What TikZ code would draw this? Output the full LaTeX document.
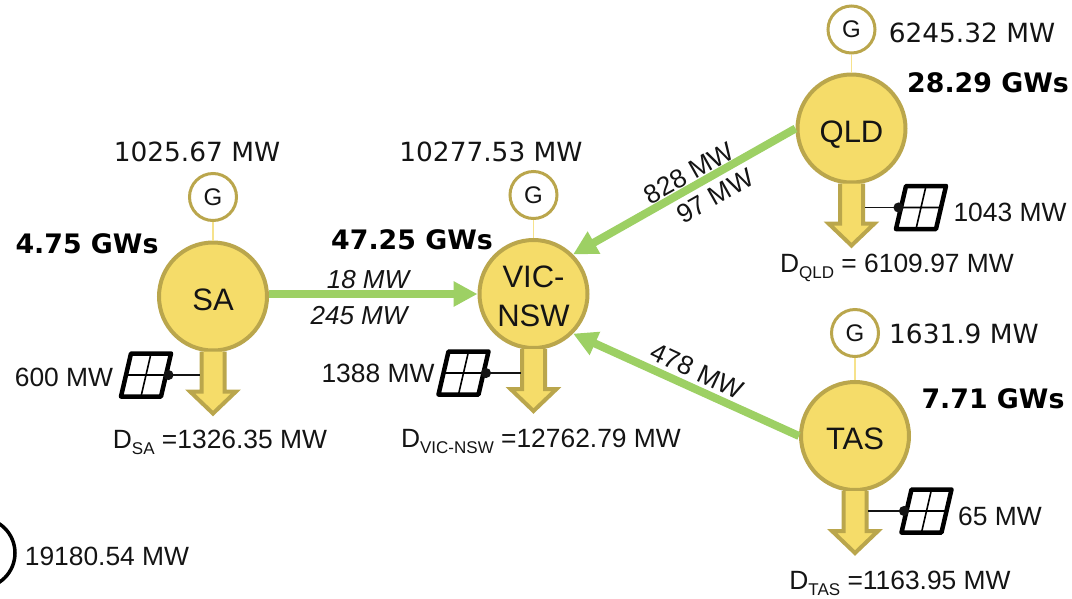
\documentclass[tikz,border=0pt]{standalone}
\usepackage{fontspec}
\setmainfont{Liberation Sans}
\newfontfamily\dejavu{DejaVu Sans}
\usetikzlibrary{arrows.meta}
\definecolor{sun}{RGB}{245,220,105}
\definecolor{olive}{RGB}{186,166,76}
\definecolor{pale}{RGB}{246,226,140}
\definecolor{grass}{RGB}{157,208,100}
\definecolor{ink}{RGB}{20,20,20}
\newcommand{\dem}[1]{D\raisebox{-6pt}{\fontsize{17}{17}\selectfont #1}}
\tikzset{
  x=1pt,y=1pt,
  region/.style={circle,draw=olive,fill=sun,line width=4pt,minimum size=108pt,inner sep=0pt,
    font=\fontsize{31}{36}\selectfont,align=center,text=ink,text height=27pt,text depth=0pt},
  genring/.style={circle,draw=olive,fill=white,line width=3pt,minimum size=47pt,inner sep=0pt,
    font=\fontsize{24}{28}\selectfont,text=ink},
  feed/.style={draw=pale,line width=1.5pt},
  flow/.style={-{Triangle[length=24pt,width=24pt]},draw=grass,line width=8pt},
  wire/.style={{Circle[length=10pt,width=10pt]}-,draw=ink,line width=1.6pt},
  val/.style={font=\dejavu\fontsize{26.4}{30}\selectfont,text=ink},
  gws/.style={font=\dejavu\bfseries\fontsize{26.8}{30}\selectfont,text=black},
  tag/.style={font=\fontsize{26.4}{30}\selectfont,text=ink},
  rate/.style={font=\itshape\fontsize{26}{30}\selectfont,text=ink},
  % pictograms
  pics/demand/.style={code={
    \draw[draw=olive,fill=sun,line width=4pt,miter limit=5] (-11.5,-55) -- (-11.5,-95) -- (-23,-95) -- (0,-117)
      -- (23,-95) -- (11.5,-95) -- (11.5,-55);
    \coordinate (-west) at (-13,-78.5);
    \coordinate (-east) at (13,-78.5);
  }},
  pics/panel/.style={code={
    \draw[black,line width=4.5pt,line join=round] (-25,-21.5) -- (-15,21.5) -- (25,21.5) -- (15,-21.5) -- cycle;
    \draw[black,line width=1.6pt] (-20,0) -- (20,0) (5,21.5) -- (-5,-21.5);
    \coordinate (-west) at (-17.5,0);
    \coordinate (-east) at (17.5,0);
  }},
}
\begin{document}
\begin{tikzpicture}
  \useasboundingbox (0,0) rectangle (1072,-598);
  % regions
  \node[region] (sa) at (213,-296.5) {SA};
  \node[region,text height=,text depth=] (vic) at (533.5,-294) {\rule{0pt}{27pt}VIC-\\[3pt]NSW};
  \node[region] (qld) at (851.5,-128.5) {QLD};
  \node[region] (tas) at (855,-436) {TAS};
  % generators
  \node[genring] (sagen) at (213,-197) {G};
  \node[genring] (vicgen) at (533.5,-195) {G};
  \node[genring] (qldgen) at (851.5,-29.5) {G};
  \node[genring] (tasgen) at (855,-333) {G};
  \draw[feed] (sagen) -- (sa);
  \draw[feed] (vicgen) -- (vic);
  \draw[feed] (qldgen) -- (qld);
  \draw[feed] (tasgen) -- (tas);
  % demand
  \foreach \r in {sa,vic,qld,tas} \pic (\r load) at (\r) {demand};
  % solar
  \pic (sasolar) at (146,-375) {panel};
  \pic (vicsolar) at (463.5,-373) {panel};
  \pic (qldsolar) at (921,-207.5) {panel};
  \pic (tassolar) at (926.5,-511) {panel};
  \draw[wire] (sasolar-east) -- (sasolar-east -| saload-west);
  \draw[wire] (vicsolar-east) -- (vicsolar-east -| vicload-west);
  \draw[wire] (qldsolar-west) -- (qldsolar-west -| qldload-east);
  \draw[wire] (tassolar-west) -- (tassolar-west -| tasload-east);
  % links
  \draw[flow] (vic.west -| sa.east) -- (vic.west);
  \draw[flow] (qld.west) -- (vic.45);
  \draw[flow] (tas.west) -- (vic.-45);
  \node[rate] (sain) at (368,-280) {18 MW};
  \node[rate] (saout) at (359,-316) {245 MW};
  \node[tag,rotate=29.4] (qldin) at (689,-173) {828 MW};
  \node[tag,rotate=29.4] (qldout) at (715,-196) {97 MW};
  \node[tag,rotate=-25] (tasin) at (697,-371) {478 MW};
  % figures
  \node[val] (sagenval) at (197,-152) {1025.67 MW};
  \node[val] (vicgenval) at (491,-152) {10277.53 MW};
  \node[val] (qldgenval) at (972,-33) {6245.32 MW};
  \node[val] (tasgenval) at (964,-334) {1631.9 MW};
  \node[gws] (sagws) at (87,-244) {4.75 GWs};
  \node[gws] (vicgws) at (412,-240) {47.25 GWs};
  \node[gws] (qldgws) at (988,-83) {28.29 GWs};
  \node[gws] (tasgws) at (993,-399) {7.71 GWs};
  \node[tag] (saval) at (64,-377) {600 MW};
  \node[tag] (vicval) at (378,-373) {1388 MW};
  \node[tag] (qldval) at (1010,-212) {1043 MW};
  \node[tag] (tasval) at (1000,-516) {65 MW};
  \node[tag] (sadem) at (220,-442) {\dem{SA} =1326.35 MW};
  \node[tag] (vicdem) at (541,-441) {\dem{VIC-NSW} =12762.79 MW};
  \node[tag] (qlddem) at (897,-268) {\dem{QLD} = 6109.97 MW};
  \node[tag] (tasdem) at (900,-583) {\dem{TAS} =1163.95 MW};
  % system total
  \begin{scope}
    \clip (0,0) rectangle (1072,-598);
    \node[circle,draw=black,line width=3.5pt,minimum size=70pt,inner sep=0pt] (total) at (-20,-553) {};
  \end{scope}
  \node[tag] (totalval) at (107,-556) {19180.54 MW};
\end{tikzpicture}
\end{document}
